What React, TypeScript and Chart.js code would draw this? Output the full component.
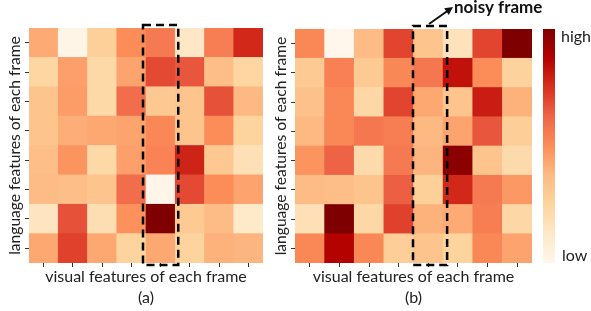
import React, { useEffect, useRef } from 'react';
import { Chart, registerables } from 'chart.js';

Chart.register(...registerables);

// ---------- data ----------
const columns = ['f1', 'f2', 'f3', 'f4', 'f5', 'f6', 'f7', 'f8'];
const noisyColumn = 4;

// rows listed top to bottom, normalised similarity (0 = low, 1 = high)
const valuesA: number[][] = [
  [0.42, 0.02, 0.27, 0.50, 0.56, 0.13, 0.55, 0.77],
  [0.24, 0.45, 0.22, 0.44, 0.69, 0.66, 0.36, 0.24],
  [0.33, 0.46, 0.22, 0.60, 0.31, 0.33, 0.67, 0.38],
  [0.33, 0.41, 0.43, 0.44, 0.52, 0.33, 0.50, 0.25],
  [0.36, 0.48, 0.22, 0.45, 0.53, 0.78, 0.31, 0.18],
  [0.37, 0.36, 0.33, 0.60, 0.01, 0.69, 0.50, 0.44],
  [0.15, 0.67, 0.19, 0.49, 1.00, 0.30, 0.37, 0.12],
  [0.43, 0.71, 0.43, 0.25, 0.43, 0.25, 0.40, 0.39],
];

const valuesB: number[][] = [
  [0.52, 0.00, 0.37, 0.70, 0.33, 0.16, 0.70, 1.00],
  [0.30, 0.54, 0.30, 0.52, 0.57, 0.83, 0.50, 0.26],
  [0.34, 0.52, 0.23, 0.70, 0.43, 0.33, 0.80, 0.40],
  [0.38, 0.52, 0.57, 0.55, 0.38, 0.44, 0.66, 0.28],
  [0.48, 0.63, 0.21, 0.56, 0.39, 0.97, 0.33, 0.21],
  [0.37, 0.36, 0.33, 0.64, 0.27, 0.77, 0.56, 0.47],
  [0.18, 1.00, 0.23, 0.71, 0.40, 0.42, 0.55, 0.23],
  [0.52, 0.87, 0.52, 0.28, 0.33, 0.25, 0.52, 0.44],
];

const xTitleA = ['visual features of each frame', '(a)'];
const xTitleB = ['visual features of each frame', '(b)'];
const yTitle = 'language features of each frame';
const noisyLabel = 'noisy frame';
const colorbarHigh = 'high';
const colorbarLow = 'low';

// ---------- colormap (OrRd) ----------
const OR_RD = ['#fff7ec', '#fee8c8', '#fdd49e', '#fdbb84', '#fc8d59', '#ef6548', '#d7301f', '#b30000', '#7f0000'];

function hexToRgb(h: string) {
  const n = parseInt(h.slice(1), 16);
  return [(n >> 16) & 255, (n >> 8) & 255, n & 255];
}
function colorFor(v: number) {
  const t = Math.max(0, Math.min(1, v)) * (OR_RD.length - 1);
  const i = Math.min(OR_RD.length - 2, Math.floor(t));
  const f = t - i;
  const a = hexToRgb(OR_RD[i]);
  const b = hexToRgb(OR_RD[i + 1]);
  const c = a.map((x, k) => Math.round(x + (b[k] - x) * f));
  return `rgb(${c[0]},${c[1]},${c[2]})`;
}

const FONT = 'Lato, "Open Sans", sans-serif';
const TEXT = '#222';

// ---------- overlay plugin ----------
const overlayPlugin = {
  id: 'overlay',
  afterDraw(chart: any, _args: any, opts: any) {
    const { ctx, chartArea } = chart;
    const x = chart.scales.x;
    const y = chart.scales.y;
    const step = x.getPixelForValue(1) - x.getPixelForValue(0);
    const cx = x.getPixelForValue(opts.col);
    const l = cx - step / 2 - opts.padL;
    const r = cx + step / 2 + opts.padR;
    const t = y.getPixelForValue(8) - 3;
    const b = y.getPixelForValue(0) + 2;
    ctx.save();
    ctx.strokeStyle = '#000';
    ctx.lineWidth = 2.5;
    ctx.setLineDash([8, 5]);
    ctx.strokeRect(l, t, r - l, b - t);
    ctx.restore();

    if (opts.colorbar) {
      const cbL = chartArea.right + 11;
      const cbW = 12;
      const top = y.getPixelForValue(8);
      const bot = y.getPixelForValue(0);
      const g = ctx.createLinearGradient(0, bot, 0, top);
      OR_RD.forEach((c: string, i: number) => g.addColorStop(i / (OR_RD.length - 1), c));
      ctx.save();
      ctx.fillStyle = g;
      ctx.fillRect(cbL, top, cbW, bot - top);
      ctx.fillStyle = TEXT;
      ctx.font = `16px ${FONT}`;
      ctx.textBaseline = 'middle';
      ctx.textAlign = 'left';
      ctx.fillText(colorbarHigh, cbL + 18, top + 8);
      ctx.fillText(colorbarLow, cbL + 19, bot - 7);
      ctx.restore();

      // arrow + label
      const ax0 = l + 16;
      const ay0 = t - 2;
      const ax1 = ax0 + 24;
      const ay1 = ay0 - 17;
      ctx.save();
      ctx.strokeStyle = '#111';
      ctx.fillStyle = '#111';
      ctx.lineWidth = 2;
      const ang = Math.atan2(ay1 - ay0, ax1 - ax0);
      ctx.beginPath();
      ctx.moveTo(ax0, ay0);
      ctx.lineTo(ax1 - 6 * Math.cos(ang), ay1 - 6 * Math.sin(ang));
      ctx.stroke();
      ctx.beginPath();
      ctx.moveTo(ax1, ay1);
      ctx.lineTo(ax1 - 8 * Math.cos(ang) + 4 * Math.sin(ang), ay1 - 8 * Math.sin(ang) - 4 * Math.cos(ang));
      ctx.lineTo(ax1 - 8 * Math.cos(ang) - 4 * Math.sin(ang), ay1 - 8 * Math.sin(ang) + 4 * Math.cos(ang));
      ctx.closePath();
      ctx.fill();
      ctx.font = `bold 17px ${FONT}`;
      ctx.textBaseline = 'middle';
      ctx.textAlign = 'left';
      ctx.fillStyle = '#111';
      ctx.fillText(noisyLabel, ax1 + 1, 8);
      ctx.restore();
    }
  },
};

function makeConfig(values: number[][], xTitle: string[], padding: any, overlay: any) {
  const rowsBottomUp = values.slice().reverse();
  const datasets = rowsBottomUp.map((row, i) => ({
    label: `row ${values.length - i}`,
    data: row.map(() => 1),
    backgroundColor: row.map(colorFor),
    borderWidth: 0,
    barPercentage: 1,
    categoryPercentage: 1,
    stack: 'cells',
  }));
  return {
    type: 'bar',
    data: { labels: columns, datasets },
    options: {
      responsive: false,
      animation: false,
      layout: { padding },
      plugins: { legend: { display: false }, tooltip: { enabled: false }, overlay },
      scales: {
        x: {
          type: 'category',
          stacked: true,
          grid: { display: true, offset: false, drawOnChartArea: false, drawTicks: true, tickLength: 4, color: '#333', lineWidth: 1 },
          border: { display: false },
          ticks: { display: false },
          title: {
            display: true,
            text: xTitle,
            color: TEXT,
            font: { family: FONT, size: 16, lineHeight: 1.3 },
            padding: { top: 0, bottom: 3 },
          },
          afterFit: (s: any) => { s.height = 48; },
        },
        y: {
          type: 'linear',
          stacked: true,
          min: 0,
          max: 8,
          afterBuildTicks: (s: any) => { s.ticks = [0.5, 1.5, 2.5, 3.5, 4.5, 5.5, 6.5, 7.5].map((v) => ({ value: v })); },
          grid: { display: true, drawOnChartArea: false, drawTicks: true, tickLength: 4, color: '#333', lineWidth: 1 },
          border: { display: false },
          ticks: { display: false },
          title: {
            display: true,
            text: yTitle,
            color: TEXT,
            font: { family: FONT, size: 15.6, lineHeight: 1.2 },
            padding: { top: 6, bottom: 0 },
          },
          afterFit: (s: any) => { s.width = 29; },
        },
      },
    },
    plugins: [overlayPlugin],
  } as any;
}

function Heatmap(props: { values: number[][]; xTitle: string[]; left: number; width: number; padding: any; overlay: any }) {
  const ref = useRef<HTMLCanvasElement>(null);
  useEffect(() => {
    if (!ref.current) return;
    const chart = new Chart(ref.current, makeConfig(props.values, props.xTitle, props.padding, props.overlay));
    return () => chart.destroy();
  }, []);
  return (
    <canvas
      ref={ref}
      width={props.width}
      height={311}
      style={{ position: 'absolute', left: props.left, top: 0, width: props.width, height: 311 }}
    />
  );
}

export default function App() {
  return (
    <div style={{ position: 'absolute', left: 0, top: 0, width: 591, height: 311, background: '#fff', overflow: 'hidden' }}>
      <Heatmap
        values={valuesA}
        xTitle={xTitleA}
        left={0}
        width={290}
        padding={{ left: 0, top: 28, right: 27, bottom: 0 }}
        overlay={{ col: noisyColumn, padL: 3, padR: 3, colorbar: false }}
      />
      <Heatmap
        values={valuesB}
        xTitle={xTitleB}
        left={266}
        width={325}
        padding={{ left: 0, top: 29, right: 59, bottom: 0 }}
        overlay={{ col: noisyColumn, padL: 0.5, padR: 4, colorbar: true }}
      />
    </div>
  );
}
